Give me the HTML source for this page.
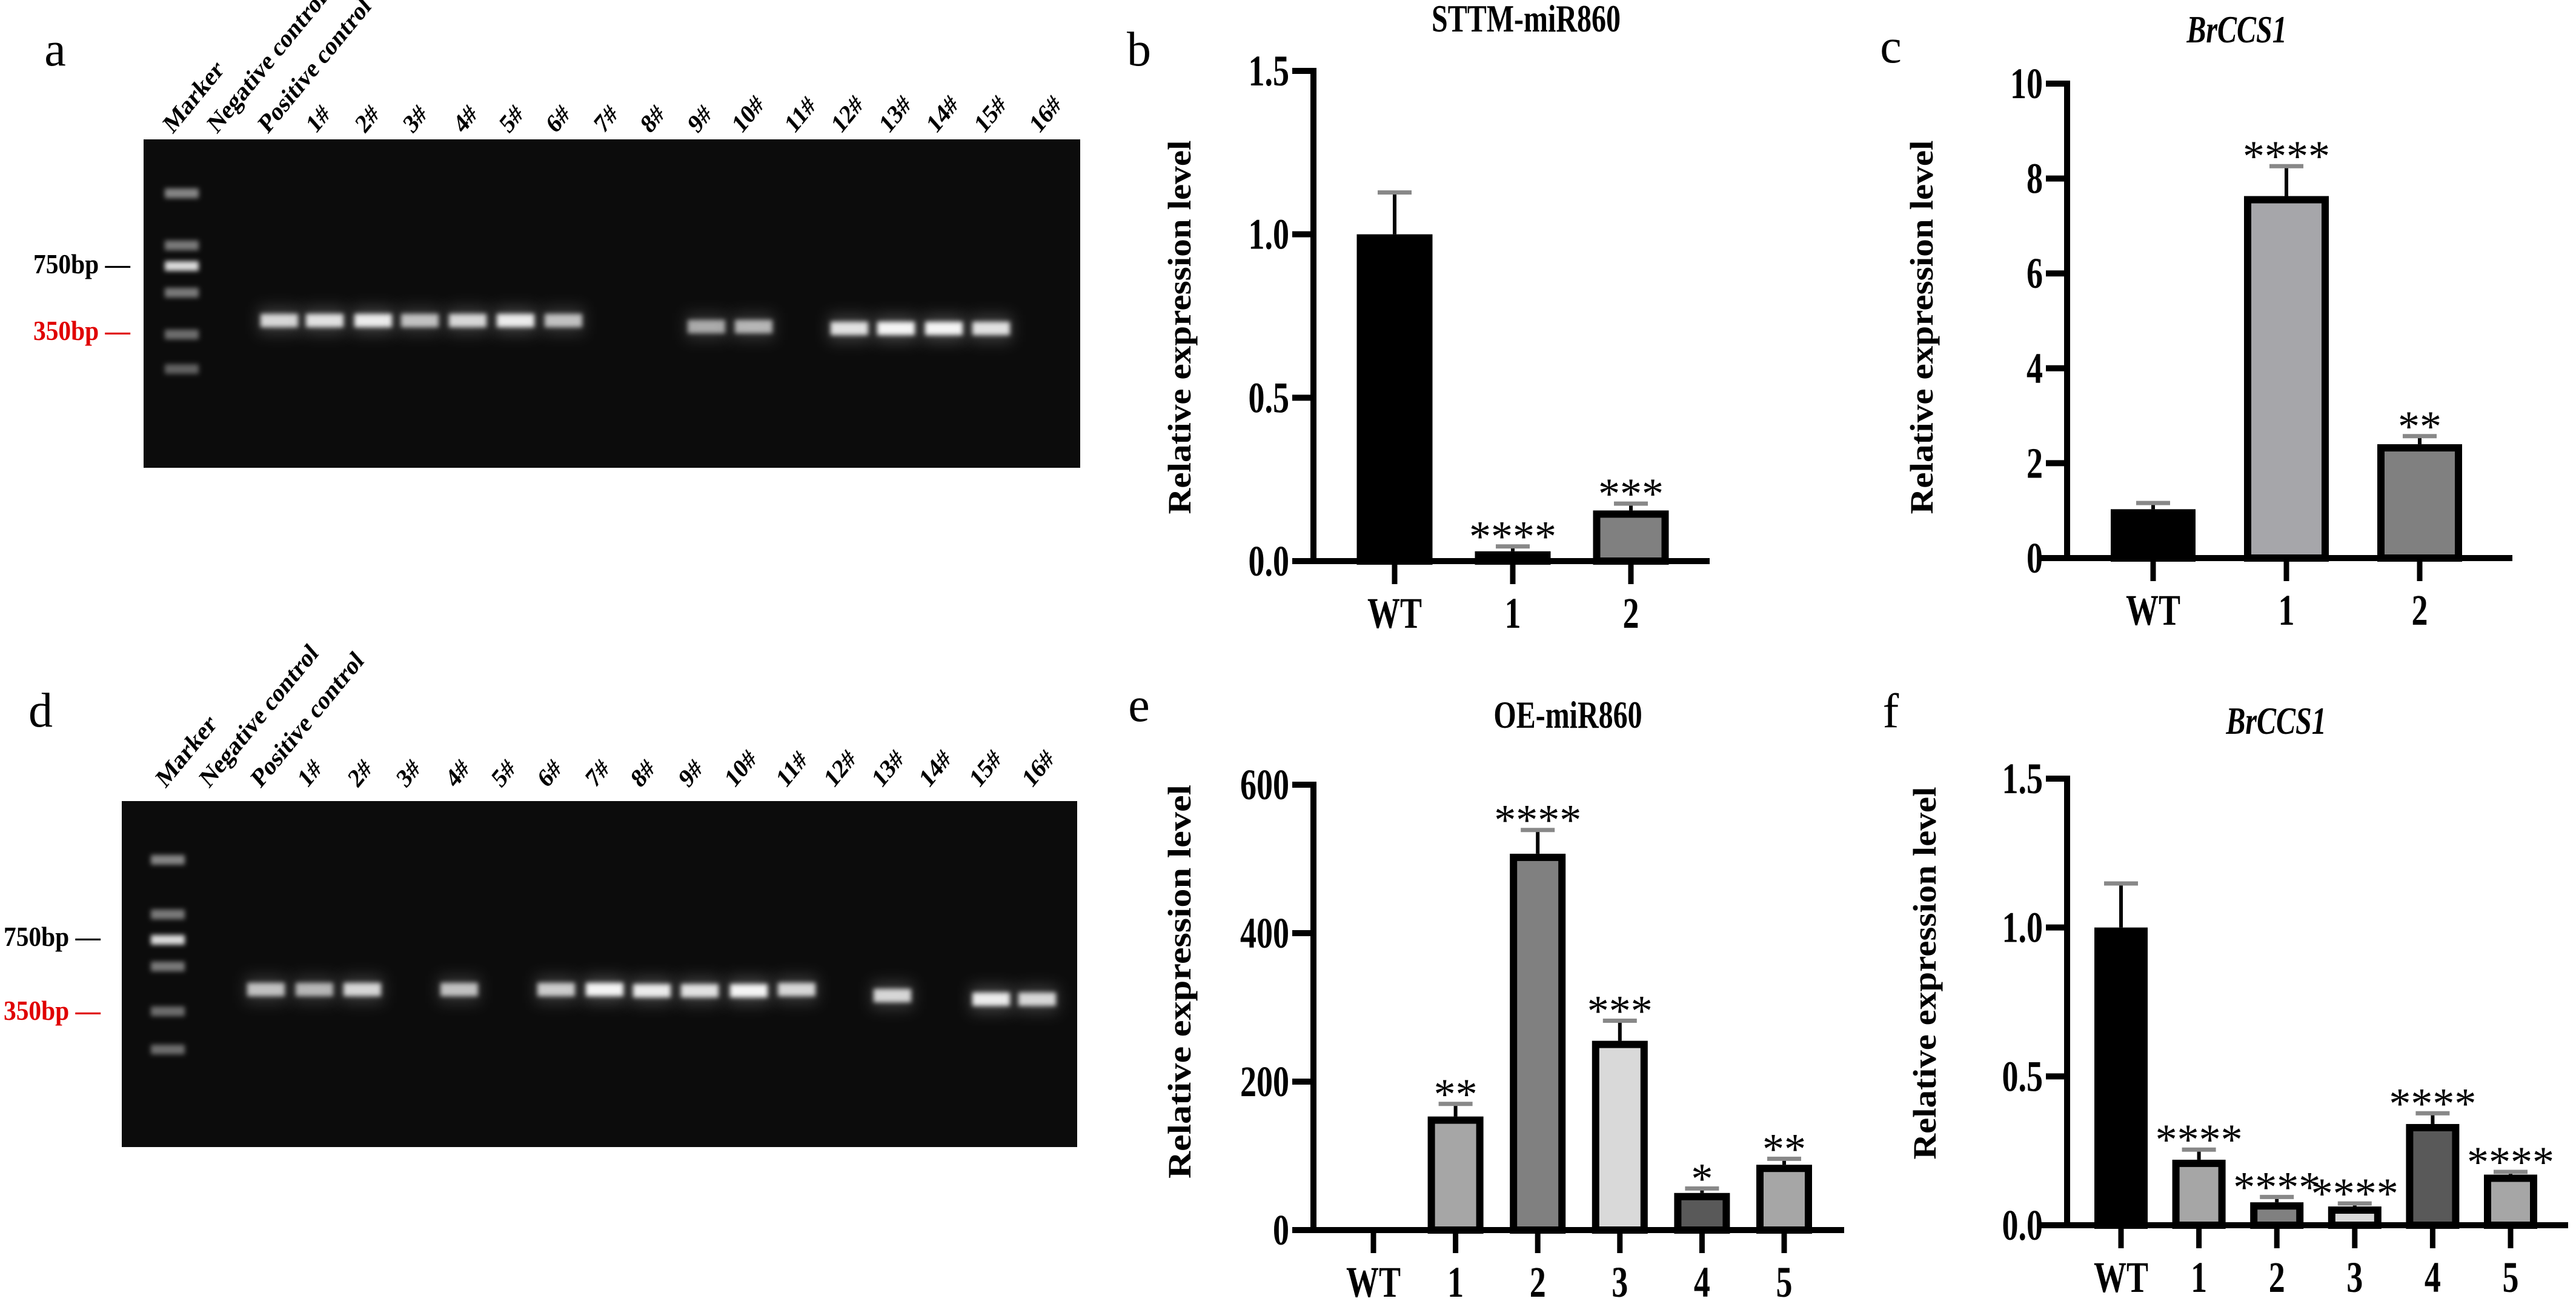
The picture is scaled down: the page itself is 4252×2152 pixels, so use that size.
<!DOCTYPE html>
<html><head><meta charset="utf-8"><style>
html,body{margin:0;padding:0;background:#fff;}
svg{display:block;}
text{font-family:"Liberation Serif",serif;}
</style></head><body>
<svg id="fig" xmlns="http://www.w3.org/2000/svg" width="4252" height="2152" viewBox="0 0 4252 2152">
<defs>
<filter id="blur" x="-50%" y="-100%" width="200%" height="300%"><feGaussianBlur stdDeviation="4"/></filter>
<filter id="glow" x="-50%" y="-100%" width="200%" height="300%"><feGaussianBlur stdDeviation="12"/></filter>
</defs>
<g id="panels"></g>
</svg>
<script>
// ---------- Gel data ----------
const gelALanes = ["Marker","Negative control","Positive control","1#","2#","3#","4#","5#","6#","7#","8#","9#","10#","11#","12#","13#","14#","15#","16#"];
const gelALabelX = [285,358,442,521,602,681,764,840,917,996,1073,1151,1224,1311,1388,1467,1545,1624,1715];
const gelABandX = [461,536,616,693,772,851,930,1166,1244,1402,1479,1558,1636];
const gelABandY = [529,529,529,529,529,529,529,539,539,542,542,542,542];
const gelABandI = [0.8,0.85,0.9,0.7,0.8,0.9,0.7,0.6,0.65,0.85,0.95,0.95,0.85];
const gelAMarkerY = [319,405,439,483,552,609];
const gelAMarkerI = [0.5,0.45,0.85,0.45,0.4,0.35];

const gelDLanes = gelALanes;
const gelDLabelX = [273,345,430,507,590,670,751,827,903,982,1057,1136,1212,1297,1376,1455,1533,1616,1703];
const gelDBandX = [439,519,598,758,918,998,1076,1155,1236,1315,1473,1636,1712];
const gelDBandY = [1633,1633,1633,1633,1633,1633,1635,1635,1635,1633,1643,1649,1649];
const gelDBandI = [0.7,0.65,0.8,0.7,0.75,0.95,0.9,0.85,0.95,0.8,0.8,0.9,0.8];
const gelDMarkerY = [1419,1509,1551,1595,1669,1732];
const gelDMarkerI = [0.5,0.45,0.85,0.45,0.4,0.4];

// ---------- Chart b ----------
const bCats = ["WT","1","2"];
const bVals = [1.0,0.03,0.155];
const bErrs = [1.128,0.045,0.176];
const bStars = ["","****","***"];
const bTicks = [0,0.5,1.0,1.5];
const bTickLabels = ["0.0","0.5","1.0","1.5"];
// ---------- Chart c ----------
const cCats = ["WT","1","2"];
const cVals = [1.03,7.63,2.4];
const cErrs = [1.16,8.26,2.57];
const cStars = ["","****","**"];
const cTicks = [0,2,4,6,8,10];
const cTickLabels = ["0","2","4","6","8","10"];
// ---------- Chart e ----------
const eCats = ["WT","1","2","3","4","5"];
const eVals = [0,153,507,255,50,88];
const eErrs = [0,170,539,282,56,96];
const eStars = ["","**","****","***","*","**"];
const eTicks = [0,200,400,600];
const eTickLabels = ["0","200","400","600"];
// ---------- Chart f ----------
const fCats = ["WT","1","2","3","4","5"];
const fVals = [1.0,0.22,0.077,0.063,0.34,0.17];
const fErrs = [1.148,0.254,0.095,0.073,0.376,0.179];
const fStars = ["","****","****","****","****","****"];
const fTicks = [0,0.5,1.0,1.5];
const fTickLabels = ["0.0","0.5","1.0","1.5"];

const NS = "http://www.w3.org/2000/svg";
const root = document.getElementById("panels");
const SX = 0.75;
function mk(tag, attrs, parent){
  const e = document.createElementNS(NS, tag);
  for (const k in attrs) e.setAttribute(k, attrs[k]);
  (parent||root).appendChild(e);
  return e;
}
function ctext(parent, x, y, attrs, sx){
  const a = Object.assign({x:0,y:0,transform:"translate("+x+","+y+") scale("+(sx||SX)+",1)"}, attrs);
  return mk("text", a, parent);
}

function panelLabel(t, x, y){
  const e = mk("text",{x:x,y:y,"font-size":80,"text-anchor":"middle"});
  
  
  e.textContent = t;
}

function drawGel(id, gx, gy, gw, gh, lanes, labelX, labelY, bandX, bandY, bandI, markerX, markerY, markerI, y750, y350, lblX){
  const g = mk("g",{});
  
  
  const bg = mk("rect",{x:gx,y:gy,width:gw,height:gh,fill:"#0c0c0c"},g);
  
  
  for (let i=0;i<markerY.length;i++){
    const b = mk("rect",{x:markerX-28,y:markerY[i]-8,width:56,height:16,fill:"#fff","fill-opacity":markerI[i],filter:"url(#blur)"},g);
    
    
  }
  for (let i=0;i<bandX.length;i++){
    const gl = mk("rect",{x:bandX[i]-34,y:bandY[i]-22,width:68,height:44,fill:"#aaa","fill-opacity":bandI[i]*0.35,filter:"url(#glow)"},g);
    
    
    const b = mk("rect",{x:bandX[i]-31,y:bandY[i]-11,width:62,height:22,fill:"#fff","fill-opacity":bandI[i],filter:"url(#blur)"},g);
    
    
  }
  for (let i=0;i<lanes.length;i++){
    const t = mk("text",{x:0,y:0,"font-size":44,"font-weight":"bold","transform":"translate("+labelX[i]+","+labelY+") scale(0.85,1) rotate(-46)"},g);
    
    
    t.textContent = lanes[i];
  }
  const t1 = ctext(g, lblX, y750+14, {"font-size":46,"font-weight":"bold"}, 0.9);
  
  
  t1.textContent = "750bp —";
  const t2 = ctext(g, lblX, y350+14, {"font-size":46,"font-weight":"bold",fill:"#e00000"}, 0.9);
  
  
  t2.textContent = "350bp —";
}

function drawChart(id, o, cats, vals, errs, stars, ticks, tickLabels, fills){
  const g = mk("g",{});
  
  
  const ymax = ticks[ticks.length-1];
  const Y = v => o.y0 - v/ymax*(o.y0-o.ytop);
  const X = i => o.xs + i*o.step;
  const tt = ctext(g, o.tx, o.ty, {"font-size":64,"font-weight":"bold","text-anchor":"middle","font-style":o.italic?"italic":"normal"});
  
  
  tt.textContent = o.title;
  const yt = mk("text",{x:0,y:0,"font-size":54,"font-weight":"bold","text-anchor":"middle",textLength:o.ylen,lengthAdjust:"spacingAndGlyphs","font-family":"Liberation Sans, sans-serif",transform:"translate("+o.yax+","+o.yay+") rotate(-90)"},g);
  
  
  yt.textContent = "Relative expression level";
  for (let i=0;i<cats.length;i++){
    const x = X(i), top = Y(vals[i]);
    if (vals[i] > 0){
      const h = o.y0 - top;
      const r = mk("rect",{x:x-o.bw/2+6,y:top+6,width:o.bw-12,height:Math.max(h-6,0),fill:fills[i],stroke:"#000","stroke-width":12},g);
      
      
      const et = Y(errs[i]);
      const el = mk("line",{x1:x,y1:top,x2:x,y2:et,stroke:"#000","stroke-width":6},g);
      
      
      const ec = mk("line",{x1:x-28,y1:et,x2:x+28,y2:et,stroke:"#888","stroke-width":7},g);
      
      
      if (stars[i]){
        const s = mk("text",{x:x,y:et+8,"font-size":72,"text-anchor":"middle"},g);
        
        
        s.textContent = stars[i];
      }
    }
    const tk = mk("line",{x1:x,y1:o.y0,x2:x,y2:o.y0+38,stroke:"#000","stroke-width":9},g);
    
    
    const lb = ctext(g, x, o.y0+110, {"font-size":72,"font-weight":"bold","text-anchor":"middle"});
    
    
    lb.textContent = cats[i];
  }
  const ya = mk("line",{x1:o.ax,y1:o.ytop-5,x2:o.ax,y2:o.y0+5,stroke:"#000","stroke-width":10},g);
  
  
  const xa = mk("line",{x1:o.xa0,y1:o.y0,x2:o.xa1,y2:o.y0,stroke:"#000","stroke-width":10},g);
  
  
  for (let i=0;i<ticks.length;i++){
    const y = Y(ticks[i]);
    const tk = mk("line",{x1:o.ax-35,y1:y,x2:o.ax,y2:y,stroke:"#000","stroke-width":10},g);
    
    
    const lb = ctext(g, o.ax-40, y+24, {"font-size":72,"font-weight":"bold","text-anchor":"end"});
    
    
    lb.textContent = tickLabels[i];
  }
}

panelLabel("a", 91, 108);
drawGel("a", 237, 230, 1546, 542, gelALanes, gelALabelX, 222, gelABandX, gelABandY, gelABandI, 300, gelAMarkerY, gelAMarkerI, 437, 547, 55);
panelLabel("d", 67, 1199);
drawGel("d", 201, 1322, 1577, 571, gelDLanes, gelDLabelX, 1302, gelDBandX, gelDBandY, gelDBandI, 277, gelDMarkerY, gelDMarkerI, 1547, 1669, 6);
panelLabel("b", 1880, 108);
drawChart("b",{title:"STTM-miR860",tx:2519,ty:52,italic:false,ax:2168,ytop:117,y0:926,xs:2302,step:195,bw:125,xa0:2133,xa1:2822,yax:1965,yay:540,ylen:617},bCats,bVals,bErrs,bStars,bTicks,bTickLabels,["#000","#333","#808080"]);
panelLabel("c", 3121, 103);
drawChart("c",{title:"BrCCS1",tx:3692,ty:70,italic:true,ax:3412,ytop:138,y0:921,xs:3554,step:220,bw:140,xa0:3366,xa1:4147,yax:3190,yay:540,ylen:617},cCats,cVals,cErrs,cStars,cTicks,cTickLabels,["#000","#a6a6aa","#808080"]);
panelLabel("e", 1880, 1190);
drawChart("e",{title:"OE-miR860",tx:2588,ty:1201,italic:false,ax:2168,ytop:1295,y0:2030,xs:2267,step:135.6,bw:92,xa0:2133,xa1:3044,yax:1965,yay:1620,ylen:650},eCats,eVals,eErrs,eStars,eTicks,eTickLabels,["#000","#a6a6a6","#808080","#d9d9d9","#595959","#a6a6a6"]);
panelLabel("f", 3121, 1200);
drawChart("f",{title:"BrCCS1",tx:3757,ty:1211,italic:true,ax:3412,ytop:1285,y0:2022,xs:3501,step:128.6,bw:88,xa0:3366,xa1:4239,yax:3195,yay:1606,ylen:615},fCats,fVals,fErrs,fStars,fTicks,fTickLabels,["#000","#a6a6a6","#808080","#d9d9d9","#595959","#a6a6a6"]);
</script>
</body></html>
